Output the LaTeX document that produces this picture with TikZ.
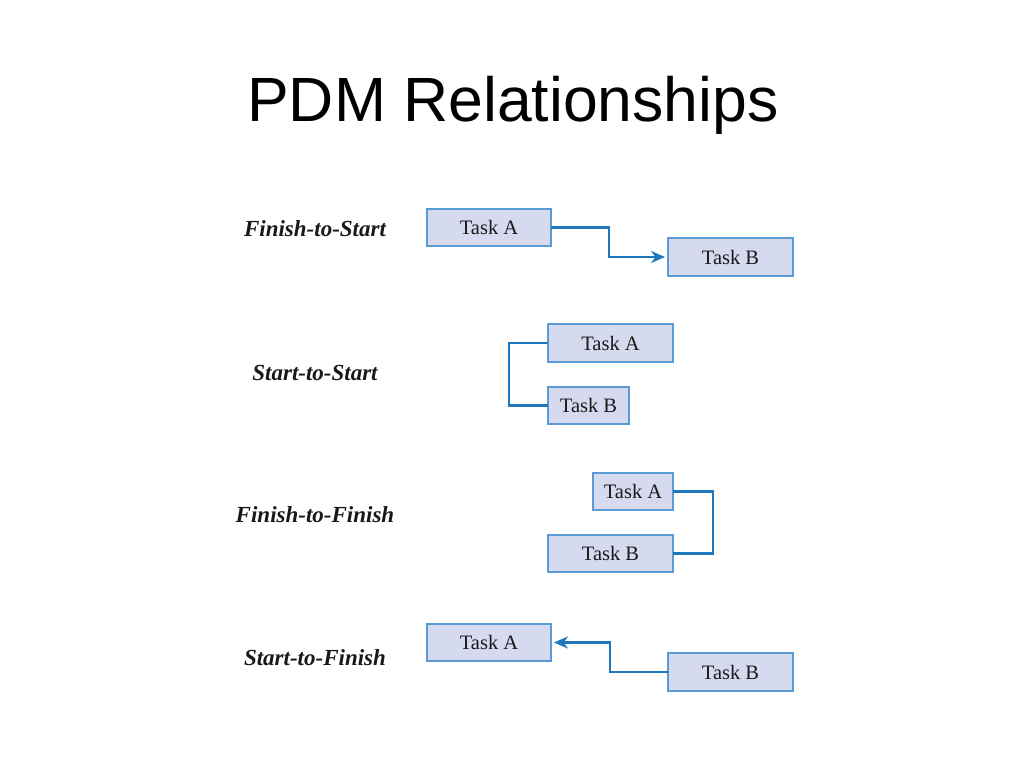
\documentclass[tikz,border=0pt]{standalone}
\usepackage{fontspec}
\setmainfont{Liberation Serif}
\newfontfamily\titlefont{Liberation Sans}
\usetikzlibrary{arrows.meta}
\definecolor{boxfill}{HTML}{D5DAEF}
\definecolor{boxline}{HTML}{5B9BD5}
\definecolor{connblue}{HTML}{1F78BE}
\tikzset{
  taskbox/.style={draw=boxline, fill=boxfill, line width=1.4pt, inner sep=0pt, outer sep=0pt,
    font=\fontsize{20.5}{24}\selectfont, text=black!90},
  reltitle/.style={font=\fontsize{23}{26}\selectfont\bfseries\itshape, text=black!90, inner sep=0pt},
  conn/.style={draw=connblue, line width=2.6pt},
  connarrow/.style={conn, -{Stealth[length=14pt,width=12pt]}, shorten >=3pt}
}
\begin{document}
\begin{tikzpicture}[x=1pt,y=-1pt]
\useasboundingbox[fill=white] (0,0) rectangle (1024,768);
\node[anchor=base, inner sep=0pt, font=\titlefont\fontsize{62.5}{70}\selectfont] (title) at (513,121) {PDM Relationships};

% Finish-to-Start
\node[reltitle] (l1) at (315,229) {Finish-to-Start};
\node[taskbox, minimum width=124pt, minimum height=37pt] (a1) at (489,227.5) {Task A};
\node[taskbox, minimum width=125pt, minimum height=38pt] (b1) at (730.5,257) {Task B};
\draw[connarrow] (a1.east) -- ++(58,0) |- (b1.west);

% Start-to-Start
\node[reltitle] (l2) at (315,373) {Start-to-Start};
\node[taskbox, minimum width=125pt, minimum height=38pt] (a2) at (610.5,343) {Task A};
\node[taskbox, minimum width=81pt, minimum height=37pt] (b2) at (588.5,405.5) {Task B};
\draw[conn] (a2.west) -- ++(-39,0) |- (b2.west);

% Finish-to-Finish
\node[reltitle] (l3) at (315,515) {Finish-to-Finish};
\node[taskbox, minimum width=80pt, minimum height=37pt] (a3) at (633,491.5) {Task A};
\node[taskbox, minimum width=125pt, minimum height=37pt] (b3) at (610.5,553.5) {Task B};
\draw[conn] (a3.east) -- ++(40,0) |- (b3.east);

% Start-to-Finish
\node[reltitle] (l4) at (315,658) {Start-to-Finish};
\node[taskbox, minimum width=124pt, minimum height=37pt] (a4) at (489,642.5) {Task A};
\node[taskbox, minimum width=125pt, minimum height=38pt] (b4) at (730.5,672) {Task B};
\draw[connarrow] (b4.west) -- ++(-58,0) |- (a4.east);
\end{tikzpicture}
\end{document}
